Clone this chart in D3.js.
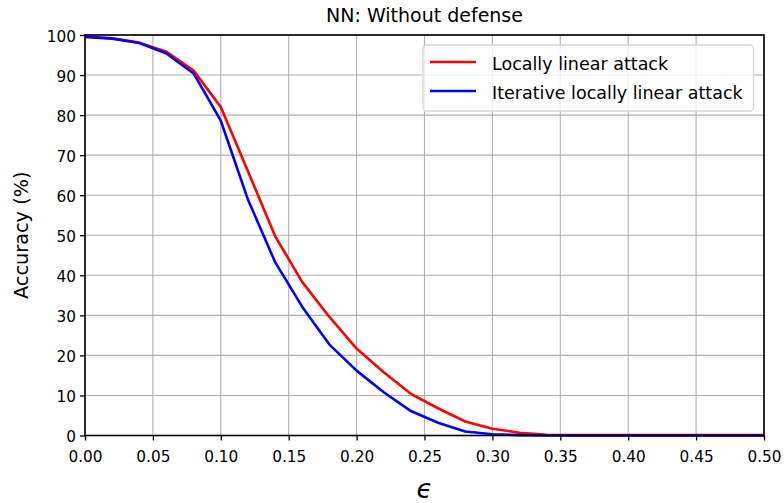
<!DOCTYPE html>
<html><head><meta charset="utf-8">
<script src="https://cdn.jsdelivr.net/npm/d3@7"></script>
<style>body{margin:0;background:#fff}svg{display:block}text{font-family:"DejaVu Sans",sans-serif;fill:#000}</style>
</head><body><svg id="c" width="784" height="503"></svg>
<script>
const epsilon = [0.00,0.02,0.04,0.06,0.08,0.10,0.12,0.14,0.16,0.18,0.20,0.22,0.24,0.26,0.28,0.30,0.32,0.34,0.36,0.38,0.40,0.42,0.44,0.46,0.48,0.50];
const locallyLinear = [99.6,99.2,98.1,95.8,91.1,82.0,66.0,49.8,38.3,29.6,21.7,15.8,10.4,6.8,3.5,1.7,0.7,0.2,0.1,0.1,0.1,0.1,0.1,0.1,0.1,0.1];
const iterative = [99.5,99.1,98.0,95.4,90.4,78.6,58.9,43.3,32.1,22.7,16.2,10.8,6.1,3.2,1.0,0.3,0.1,0,0,0,0,0,0,0,0,0];
const xTicks = [0,0.05,0.1,0.15,0.2,0.25,0.3,0.35,0.4,0.45,0.5];
const yTicks = [0,10,20,30,40,50,60,70,80,90,100];
const seriesNames = ["Locally linear attack","Iterative locally linear attack"];
const colors = ["#ff0000","#0000ff"];

const svg = d3.select("#c");
const L=85,R=764,T=35,B=435.5;
const x = d3.scaleLinear().domain([0,0.5]).range([L,R]);
const y = d3.scaleLinear().domain([0,100]).range([B,T]);

// grid
svg.append("g").selectAll("line").data(xTicks).join("line")
  .attr("x1",d=>x(d)).attr("x2",d=>x(d)).attr("y1",T).attr("y2",B)
  .attr("stroke","#b0b0b0").attr("stroke-width",1.1);
svg.append("g").selectAll("line").data(yTicks).join("line")
  .attr("y1",d=>y(d)).attr("y2",d=>y(d)).attr("x1",L).attr("x2",R)
  .attr("stroke","#b0b0b0").attr("stroke-width",1.1);

// lines
const line = d3.line().x((d,i)=>x(epsilon[i])).y(d=>y(d));
[locallyLinear, iterative].forEach((s,k)=>{
  svg.append("path").attr("d",line(s)).attr("fill","none")
    .attr("stroke",colors[k]).attr("stroke-width",2.6).attr("stroke-linejoin","round");
});

// axes
const xa = svg.append("g").attr("transform",`translate(0,${B})`)
  .call(d3.axisBottom(x).tickValues(xTicks).tickFormat(d3.format(".2f")).tickSize(5).tickPadding(11));
const ya = svg.append("g").attr("transform",`translate(${L},0)`)
  .call(d3.axisLeft(y).tickValues(yTicks).tickSize(5).tickPadding(4));
[xa,ya].forEach(a=>{
  a.selectAll("text").attr("font-size",15.3).attr("font-family","DejaVu Sans").attr("fill","#000");
  a.selectAll("line").attr("stroke","#000").attr("stroke-width",1.3);
  a.select(".domain").remove();
});
ya.selectAll("text").attr("dy","0.42em");
svg.append("rect").attr("x",L).attr("y",T).attr("width",R-L).attr("height",B-T)
  .attr("fill","none").attr("stroke","#000").attr("stroke-width",1.6);

// title and labels
svg.append("text").attr("x",(L+R)/2).attr("y",22).attr("text-anchor","middle")
  .attr("font-size",19).text("NN: Without defense");
svg.append("text").attr("transform",`translate(27.5,${(T+B)/2}) rotate(-90)`)
  .attr("text-anchor","middle").attr("font-size",19.3).text("Accuracy (%)");
svg.append("text").attr("x",(L+R)/2).attr("y",498).attr("text-anchor","middle")
  .attr("font-size",26).attr("font-family","DejaVu Serif").attr("font-style","italic").text("\u03f5");

// legend
const lg = svg.append("g");
lg.append("rect").attr("x",423).attr("y",45).attr("width",330.5).attr("height",66).attr("rx",3.5)
  .attr("fill","#fff").attr("fill-opacity",0.8).attr("stroke","#d6d6d6").attr("stroke-width",1.3);
seriesNames.forEach((n,i)=>{
  const yy = 62 + i*29;
  lg.append("line").attr("x1",430).attr("x2",476).attr("y1",yy).attr("y2",yy)
    .attr("stroke",colors[i]).attr("stroke-width",2.6);
  lg.append("text").attr("x",492).attr("y",yy+7.5).attr("font-size",17.5).text(n);
});
</script></body></html>
